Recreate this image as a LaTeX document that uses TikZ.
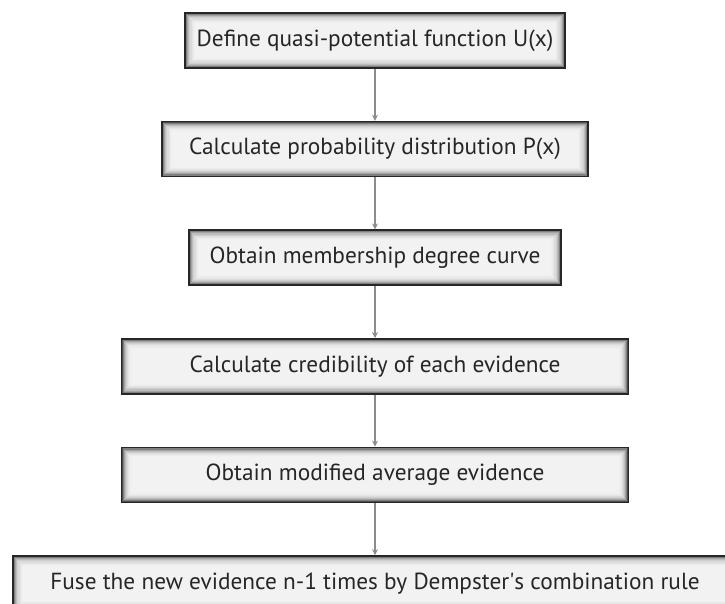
\documentclass[tikz,border=0pt]{standalone}
\usepackage{fontspec}
\setmainfont{PT Sans}
\usepackage{tikz}
\usetikzlibrary{arrows.meta,positioning}

\begin{document}
\begin{tikzpicture}[
      node distance=52pt,
      every node/.style={font=\fontsize{23.3}{27}\selectfont, text=black!85},
      box/.style={draw=black!85, line width=1.6pt, fill=black!5,
                  minimum height=55pt, inner sep=0pt, align=center,
                  path picture={
                    \foreach \d/\c in {0.6/70,1.7/50,2.8/36,3.9/26,5.0/19,
                                       6.1/14,7.2/10,8.3/8,9.4/6}{
                      \draw[line width=1.3pt, draw=black!\c]
                        ([shift={(\d pt,\d pt)}]path picture bounding box.south west)
                        rectangle
                        ([shift={(-\d pt,-\d pt)}]path picture bounding box.north east);
                    }}},
      arr/.style={-{Stealth[length=6pt, width=6pt]}, line width=1.1pt,
                  color=black!45},
    ]
    \useasboundingbox (0,0) rectangle (725pt,-604pt);

    % ── Step 1: quasi-potential ─────────────────────────────
    \node[box, minimum width=380pt] (upot) at (375pt,-40.5pt)
      {Define quasi-potential function U(x)};

    % ── Step 2: probability ─────────────────────────────────
    \node[box, minimum width=426pt, below=of upot] (prob)
      {Calculate probability distribution P(x)};

    % ── Step 3: membership ──────────────────────────────────
    \node[box, minimum width=372pt, below=of prob] (memb)
      {Obtain membership degree curve};

    % ── Step 4: credibility ─────────────────────────────────
    \node[box, minimum width=507pt, below=of memb] (cred)
      {Calculate credibility of each evidence};

    % ── Step 5: average evidence ────────────────────────────
    \node[box, minimum width=507pt, below=of cred] (avg)
      {Obtain modified average evidence};

    % ── Step 6: fusion ──────────────────────────────────────
    \node[box, minimum width=724pt, below=of avg] (fuse)
      {Fuse the new evidence n-1 times by Dempster\textquotesingle s combination rule};

    % ── Arrows ──────────────────────────────────────────────
    \draw[arr] (upot.south) -- (prob.north);
    \draw[arr] (prob.south) -- (memb.north);
    \draw[arr] (memb.south) -- (cred.north);
    \draw[arr] (cred.south) -- (avg.north);
    \draw[arr] (avg.south)  -- (fuse.north);
  \end{tikzpicture}
\end{document}
